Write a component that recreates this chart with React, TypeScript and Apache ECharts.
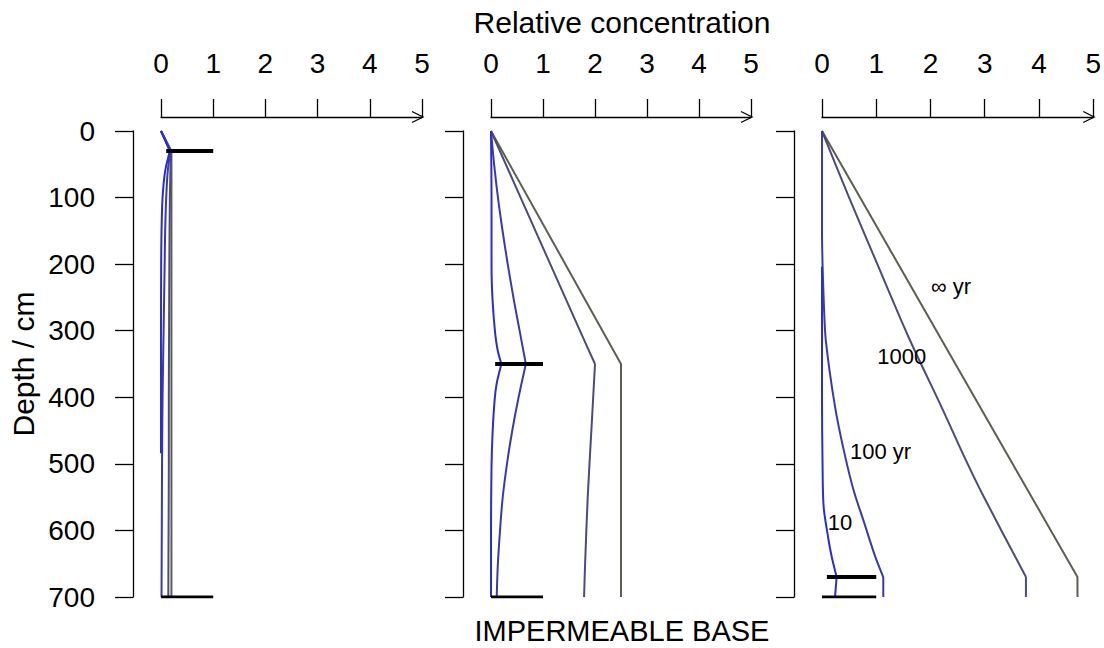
import React, { useEffect, useRef } from "react";
import * as echarts from "echarts";

// Axis ticks
const concTicks = [0, 1, 2, 3, 4, 5];
const depthTicks = [0, 100, 200, 300, 400, 500, 600, 700];

// Concentration profiles, each point is [relative concentration, depth in cm]
// Left column: contaminated layer at 30 cm
const p1Inf = [[0, 0], [0.2, 30], [0.2, 700]];
const p1Y1000 = [[0, 0], [0.19, 30], [0.17, 100], [0.16, 200], [0.155, 300], [0.15, 400], [0.15, 500], [0.145, 600], [0.14, 700]];
const p1Y100 = [[0, 0], [0.18, 30], [0.13, 60], [0.1, 100], [0.08, 150], [0.07, 200], [0.05, 300], [0.03, 400], [0.02, 500], [0.015, 600], [0.01, 700]];
const p1Y10 = [[0, 0], [0.17, 30], [0.08, 60], [0.03, 100], [0.01, 150], [0.003, 200], [0, 300], [0, 484]];

// Middle column: contaminated layer at 350 cm
const p2Inf = [[0, 0], [2.5, 350], [2.5, 700]];
const p2Y1000 = [[0, 0], [0.57, 100], [1.14, 200], [1.71, 300], [2.0, 350], [1.93, 450], [1.86, 550], [1.81, 650], [1.79, 700]];
const p2Y100 = [[0, 0], [0.06, 50], [0.14, 104], [0.23, 154], [0.33, 204], [0.44, 254], [0.56, 304], [0.67, 350], [0.52, 404], [0.4, 454], [0.3, 504], [0.22, 554], [0.17, 604], [0.13, 654], [0.11, 700]];
const p2Y10 = [[0, 0], [0.01, 100], [0.01, 204], [0.03, 254], [0.08, 304], [0.13, 330], [0.2, 350], [0.11, 379], [0.07, 404], [0.03, 454], [0.01, 504], [0, 600], [0, 700]];

// Right column: contaminated layer at 670 cm
const p3Inf = [[0, 0], [4.71, 670], [4.71, 700]];
const p3Y1000 = [[0, 0], [0.5, 100], [1.02, 200], [1.62, 314], [2.2, 414], [2.65, 494], [2.98, 549], [3.76, 670], [3.76, 700]];
const p3Y100 = [[0, 0], [0, 150], [0.01, 200], [0.03, 250], [0.07, 314], [0.24, 414], [0.4, 479], [0.58, 539], [0.78, 589], [0.98, 639], [1.13, 670], [1.13, 700]];
const p3Y10 = [[0, 204], [0, 400], [0.01, 500], [0.03, 564], [0.12, 614], [0.18, 640], [0.27, 670], [0.24, 700]];

// Depth of the contaminated layer in each column
const sourceDepths = [30, 350, 670];

// Layer markers (thick black bars)
const p1Bars = [[[0.1, 30], [1, 30]], [[0, 700], [1, 700]]];
const p2Bars = [[[0.08, 350], [1, 350]], [[0, 700], [1, 700]]];
const p3Bars = [[[0.09, 670], [1, 670]], [[0, 700], [1, 700]]];

// Curve labels in the right column: [x, depth, text]
const curveLabels: [number, number, string][] = [
  [2.38, 234, "\u221e yr"],
  [1.47, 339, "1000"],
  [1.08, 482, "100 yr"],
  [0.33, 588, "10"],
];

const panels = [
  { inf: p1Inf, y1000: p1Y1000, y100: p1Y100, y10: p1Y10, bars: p1Bars },
  { inf: p2Inf, y1000: p2Y1000, y100: p2Y100, y10: p2Y10, bars: p2Bars },
  { inf: p3Inf, y1000: p3Y1000, y100: p3Y100, y10: p3Y10, bars: p3Bars },
];

const FONT = "'Liberation Sans', Arial, Helvetica, sans-serif";
const COL_INF = "#5d5e52";
const COL_1000 = "#4b4b7d";
const COL_100 = "#3a3aa8";
const COL_10 = "#2d2dc8";

const GRID_TOP = 131;
const GRID_H = 466;
const X_OFFSET = 14;
const gridBoxes = [
  { left: 161, width: 261 },
  { left: 491, width: 260 },
  { left: 822, width: 272 },
];

// Split a profile at the contaminated layer so the kink there stays sharp
function splitAt(data: number[][], depth: number): number[][][] {
  const above = data.filter((p) => p[1] <= depth);
  const below = data.filter((p) => p[1] >= depth);
  return [above, below].filter((part) => part.length > 1);
}

export default function App() {
  const ref = useRef<HTMLDivElement>(null);

  useEffect(() => {
    if (!ref.current) return;
    const chart = echarts.init(ref.current, undefined, { renderer: "svg" });

    const grid = gridBoxes.map((g) => ({ left: g.left, width: g.width, top: GRID_TOP, height: GRID_H, containLabel: false }));

    const xAxis = gridBoxes.map((_, i) => ({
      type: "value",
      gridIndex: i,
      position: "top",
      offset: X_OFFSET,
      min: concTicks[0],
      max: concTicks[concTicks.length - 1],
      interval: 1,
      axisLine: { show: true, onZero: false, lineStyle: { color: "#000", width: 1.3 } },
      axisTick: { show: true, length: 18, lineStyle: { color: "#000", width: 1.3 } },
      axisLabel: { show: true, margin: 40, fontSize: 28, color: "#000", fontFamily: FONT },
      splitLine: { show: false },
    }));

    const yAxis = gridBoxes.map((_, i) => ({
      type: "value",
      gridIndex: i,
      position: "left",
      offset: 28,
      inverse: true,
      min: depthTicks[0],
      max: depthTicks[depthTicks.length - 1],
      interval: 100,
      axisLine: { show: true, onZero: false, lineStyle: { color: "#000", width: 1.3 } },
      axisTick: { show: true, length: 18, lineStyle: { color: "#000", width: 1.3 } },
      axisLabel: { show: i === 0, margin: 38, fontSize: 28, color: "#000", fontFamily: FONT },
      splitLine: { show: false },
    }));

    const line = (data: number[][], color: string, i: number, width = 2, smooth: number | boolean = false) => ({
      type: "line",
      xAxisIndex: i,
      yAxisIndex: i,
      data,
      showSymbol: false,
      symbol: "none",
      silent: true,
      smooth,
      lineStyle: { color, width, cap: "butt", join: "miter" },
      z: 3,
    });

    const series: any[] = [];
    panels.forEach((p, i) => {
      const d = sourceDepths[i];
      series.push(line(p.inf, COL_INF, i));
      const curves: [number[][], string][] = [
        [p.y1000, COL_1000],
        [p.y100, COL_100],
        [p.y10, COL_10],
      ];
      curves.forEach(([data, col]) => {
        splitAt(data, d).forEach((part) => series.push(line(part, col, i, 2, 0.3)));
      });
      p.bars.forEach((b, k) => {
        const s = line(b, "#000", i, k === 0 ? 4 : 3);
        s.z = 4;
        series.push(s);
      });
    });

    chart.setOption({
      animation: false,
      backgroundColor: "#fff",
      grid,
      xAxis,
      yAxis,
      series,
    });

    // Open arrow heads at the right end of each concentration axis
    const axisY = GRID_TOP - X_OFFSET;
    const arrows = gridBoxes.map((_, i) => {
      const px = chart.convertToPixel({ xAxisIndex: i }, concTicks[concTicks.length - 1]) as number;
      return {
        type: "polyline",
        shape: { points: [[px - 10, axisY - 5.5], [px + 1, axisY], [px - 10, axisY + 5.5]] },
        style: { stroke: "#000", lineWidth: 1.3, fill: null },
        silent: true,
      };
    });

    const labels = curveLabels.map(([x, dep, text]) => {
      const pt = chart.convertToPixel({ xAxisIndex: 2, yAxisIndex: 2 }, [x, dep]) as number[];
      return {
        type: "text",
        x: pt[0],
        y: pt[1],
        silent: true,
        style: { text, font: `22px ${FONT}`, fill: "#000", align: "center", verticalAlign: "middle" },
        z: 10,
      };
    });

    chart.setOption({
      graphic: [
        ...arrows,
        ...labels,
        {
          type: "text",
          x: 622,
          y: 22,
          style: { text: "Relative concentration", font: `30px ${FONT}`, fill: "#000", align: "center", verticalAlign: "middle" },
        },
        {
          type: "text",
          x: 622,
          y: 631,
          style: { text: "IMPERMEABLE BASE", font: `29px ${FONT}`, fill: "#000", align: "center", verticalAlign: "middle" },
        },
        {
          type: "text",
          x: 23,
          y: 364,
          rotation: Math.PI / 2,
          style: { text: "Depth / cm", font: `30px ${FONT}`, fill: "#000", align: "center", verticalAlign: "middle" },
        },
      ],
    });

    return () => chart.dispose();
  }, []);

  return <div ref={ref} style={{ position: "absolute", left: 0, top: 0, width: 1104, height: 648 }} />;
}
